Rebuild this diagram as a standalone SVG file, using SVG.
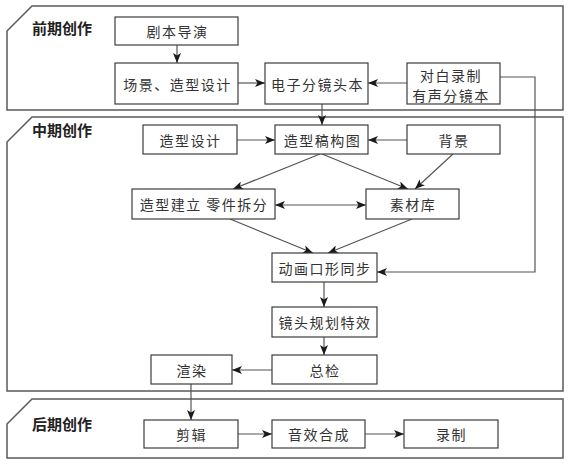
<svg xmlns="http://www.w3.org/2000/svg" width="576" height="465" viewBox="0 0 576 465">
<defs>
<marker id="ah" viewBox="0 0 10 8" refX="10" refY="4" markerWidth="10" markerHeight="8" markerUnits="userSpaceOnUse" orient="auto-start-reverse">
<path d="M0,0 L10,4 L0,8 L2.5,4 Z" fill="#1a1a1a"/>
</marker>
</defs>
<style>
.panel{fill:none;stroke:#5a5a5a;stroke-width:1.5}
.box{fill:#fff;stroke:#3c3c3c;stroke-width:1.2}
.ptitle{font-family:"Noto Sans CJK SC",sans-serif;font-size:15px;font-weight:bold;fill:#222}
.t{font-family:"Noto Sans CJK SC",sans-serif;font-size:14px;fill:#333;text-anchor:middle;dominant-baseline:central;letter-spacing:1.5px}
.c{fill:none;stroke:#555;stroke-width:1.2;marker-end:url(#ah)}
</style>
<rect width="576" height="465" fill="#fff"/>
<g id="panels">
<path class="panel" d="M32,6 H563 V110 H7 V31 Z"/>
<path class="panel" d="M32,117 H563 V391 H7 V142 Z"/>
<path class="panel" d="M32,399 H563 V458 H7 V424 Z"/>
<text class="ptitle" x="32" y="34">前期创作</text>
<text class="ptitle" x="32" y="136">中期创作</text>
<text class="ptitle" x="32" y="430">后期创作</text>
</g>
<g id="connectors">
<line class="c" x1="177" y1="45" x2="177" y2="63"/>
<line class="c" x1="238" y1="83" x2="265" y2="83"/>
<line class="c" x1="407" y1="83" x2="368" y2="83"/>
<path class="c" d="M500,77 H535 V272 H377"/>
<line class="c" x1="322" y1="104" x2="322" y2="125"/>
<line class="c" x1="237" y1="140" x2="275" y2="140"/>
<line class="c" x1="407" y1="140" x2="368" y2="140"/>
<line class="c" x1="320" y1="154" x2="233" y2="189"/>
<line class="c" x1="322" y1="154" x2="408" y2="189"/>
<line class="c" x1="453" y1="154" x2="415" y2="189"/>
<line class="c" x1="275" y1="205" x2="366" y2="205" marker-start="url(#ah)"/>
<line class="c" x1="230" y1="219" x2="313" y2="253"/>
<line class="c" x1="412" y1="219" x2="328" y2="253"/>
<line class="c" x1="324" y1="282" x2="324" y2="307"/>
<line class="c" x1="324" y1="337" x2="324" y2="355"/>
<line class="c" x1="272" y1="370" x2="232" y2="370"/>
<line class="c" x1="191" y1="384" x2="191" y2="420"/>
<line class="c" x1="238" y1="434" x2="272" y2="434"/>
<line class="c" x1="365" y1="434" x2="404" y2="434"/>
</g>
<g id="n-jubendaoyan"><rect class="box" x="115" y="17" width="123" height="28"/><text class="t" x="177.5" y="31">剧本导演</text></g>
<g id="n-changjing"><rect class="box" x="115" y="63" width="123" height="41"/><text class="t" x="177.5" y="83.5">场景、造型设计</text></g>
<g id="n-dianzi"><rect class="box" x="265" y="63" width="103" height="41"/><text class="t" x="317.5" y="83.5">电子分镜头本</text></g>
<g id="n-duibai"><rect class="box" x="407" y="63" width="93" height="41"/><text class="t" x="451" y="75">对白录制</text><text class="t" x="451" y="95">有声分镜本</text></g>
<g id="n-zaoxingsheji"><rect class="box" x="143" y="125" width="94" height="29"/><text class="t" x="190.5" y="139.5">造型设计</text></g>
<g id="n-gaogoutu"><rect class="box" x="275" y="125" width="93" height="29"/><text class="t" x="322.5" y="139.5">造型稿构图</text></g>
<g id="n-beijing"><rect class="box" x="407" y="125" width="93" height="29"/><text class="t" x="454" y="139.5">背景</text></g>
<g id="n-jianli"><rect class="box" x="132" y="189" width="143" height="30"/><text class="t" x="204" y="204" xml:space="preserve">造型建立 零件拆分</text></g>
<g id="n-sucaiku"><rect class="box" x="366" y="189" width="93" height="30"/><text class="t" x="413" y="204">素材库</text></g>
<g id="n-donghua"><rect class="box" x="272" y="253" width="105" height="29"/><text class="t" x="325" y="267.5">动画口形同步</text></g>
<g id="n-jingtou"><rect class="box" x="272" y="307" width="105" height="30"/><text class="t" x="325" y="322">镜头规划特效</text></g>
<g id="n-zongjian"><rect class="box" x="272" y="355" width="105" height="29"/><text class="t" x="325" y="369.5">总检</text></g>
<g id="n-xuanran"><rect class="box" x="151" y="355" width="81" height="29"/><text class="t" x="192" y="369.5">渲染</text></g>
<g id="n-jianji"><rect class="box" x="144" y="420" width="94" height="28"/><text class="t" x="191.5" y="434">剪辑</text></g>
<g id="n-yinxiao"><rect class="box" x="272" y="420" width="93" height="28"/><text class="t" x="319" y="434">音效合成</text></g>
<g id="n-luzhi"><rect class="box" x="404" y="420" width="94" height="28"/><text class="t" x="451.5" y="434">录制</text></g>
</svg>
